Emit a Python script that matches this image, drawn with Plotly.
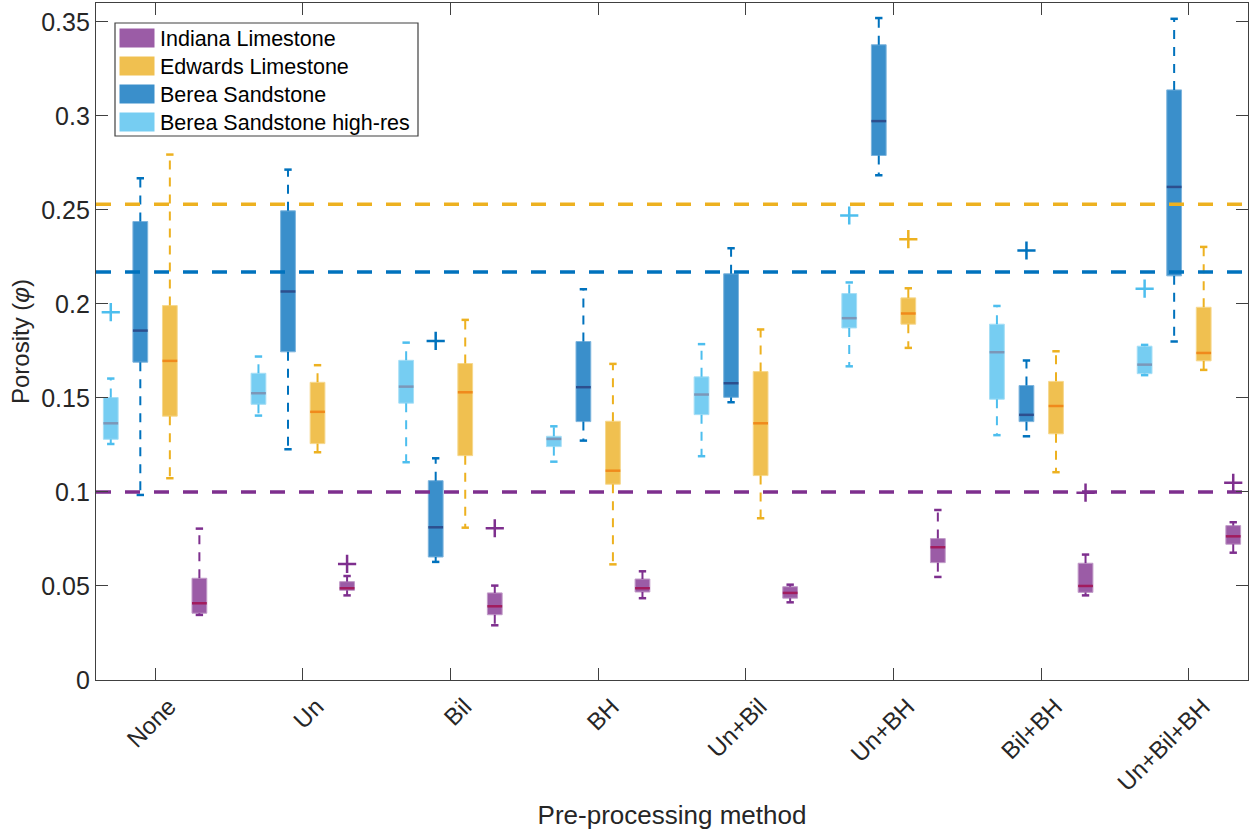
import plotly.graph_objects as go

# ---- data -------------------------------------------------------------
categories = ["None", "Un", "Bil", "BH", "Un+Bil", "Un+BH", "Bil+BH", "Un+Bil+BH"]
positions = [1, 2, 3, 4, 5, 6, 7, 8]

# Berea Sandstone high-res
hr_upper = [0.1603, 0.1720, 0.1794, 0.1349, 0.1786, 0.2114, 0.1989, 0.1782]
hr_q3 = [0.1502, 0.1631, 0.1700, 0.1296, 0.1612, 0.2055, 0.1892, 0.1775]
hr_med = [0.1365, 0.1525, 0.1560, 0.1282, 0.1518, 0.1924, 0.1743, 0.1677]
hr_q1 = [0.1280, 0.1466, 0.1472, 0.1241, 0.1411, 0.1872, 0.1493, 0.1629]
hr_lower = [0.1255, 0.1406, 0.1158, 0.1161, 0.1190, 0.1668, 0.1302, 0.1621]
hr_out_cat = [1, 6, 8]
hr_out_val = [0.1956, 0.2470, 0.2081]

# Berea Sandstone
bs_upper = [0.2668, 0.2714, 0.1179, 0.2078, 0.2296, 0.3520, 0.1699, 0.3516]
bs_q3 = [0.2438, 0.2495, 0.1060, 0.1800, 0.2160, 0.3378, 0.1566, 0.3138]
bs_med = [0.1858, 0.2066, 0.0812, 0.1557, 0.1578, 0.2972, 0.1410, 0.2622]
bs_q1 = [0.1690, 0.1745, 0.0654, 0.1374, 0.1503, 0.2789, 0.1374, 0.2149]
bs_lower = [0.0984, 0.1227, 0.0628, 0.1273, 0.1477, 0.2684, 0.1296, 0.1800]
bs_out_cat = [3, 7]
bs_out_val = [0.1803, 0.2284]

# Edwards Limestone
ed_upper = [0.2794, 0.1674, 0.1915, 0.1681, 0.1864, 0.2083, 0.1748, 0.2303]
ed_q3 = [0.1991, 0.1583, 0.1683, 0.1376, 0.1640, 0.2032, 0.1588, 0.1982]
ed_med = [0.1697, 0.1426, 0.1530, 0.1113, 0.1365, 0.1949, 0.1457, 0.1739]
ed_q1 = [0.1403, 0.1257, 0.1193, 0.1041, 0.1087, 0.1892, 0.1309, 0.1697]
ed_lower = [0.1073, 0.1211, 0.0810, 0.0615, 0.0860, 0.1766, 0.1105, 0.1649]
ed_out_cat = [6]
ed_out_val = [0.2344]

# Indiana Limestone
il_upper = [0.0805, 0.0553, 0.0502, 0.0578, 0.0507, 0.0904, 0.0667, 0.0839]
il_q3 = [0.0541, 0.0523, 0.0463, 0.0537, 0.0496, 0.0752, 0.0621, 0.0821]
il_med = [0.0408, 0.0488, 0.0392, 0.0488, 0.0463, 0.0706, 0.0500, 0.0764]
il_q1 = [0.0355, 0.0477, 0.0347, 0.0468, 0.0435, 0.0624, 0.0466, 0.0722]
il_lower = [0.0346, 0.0450, 0.0291, 0.0435, 0.0413, 0.0548, 0.0450, 0.0677]
il_out_cat = [2, 3, 7, 8]
il_out_val = [0.0617, 0.0807, 0.0996, 0.1049]

# reference porosities (dashed horizontal lines)
ref_edwards = 0.253
ref_berea = 0.217
ref_indiana = 0.100

tick_vals = [0, 0.05, 0.1, 0.15, 0.2, 0.25, 0.3, 0.35]
tick_text = ["0", "0.05", "0.1", "0.15", "0.2", "0.25", "0.3", "0.35"]

# ---- styling ----------------------------------------------------------
FONT = "Liberation Sans, Arial, Helvetica, sans-serif"
BOX_W = 0.1
CAP_W = 0.05
X_RANGE = [0.6, 8.4]

series = [
    dict(name="Berea Sandstone high-res", offset=-0.3,
         upper=hr_upper, q3=hr_q3, med=hr_med, q1=hr_q1, lower=hr_lower,
         out_cat=hr_out_cat, out_val=hr_out_val,
         fill="#76CDF2", edge="#A6DEF6", line="#4DBEEE", median="#7C97B8"),
    dict(name="Berea Sandstone", offset=-0.1,
         upper=bs_upper, q3=bs_q3, med=bs_med, q1=bs_q1, lower=bs_lower,
         out_cat=bs_out_cat, out_val=bs_out_val,
         fill="#3A8FCB", edge="#7DB4DD", line="#0072BD", median="#2D4F8E"),
    dict(name="Edwards Limestone", offset=0.1,
         upper=ed_upper, q3=ed_q3, med=ed_med, q1=ed_q1, lower=ed_lower,
         out_cat=ed_out_cat, out_val=ed_out_val,
         fill="#F0C050", edge="#F6D88E", line="#EDB120", median="#F08A1C"),
    dict(name="Indiana Limestone", offset=0.3,
         upper=il_upper, q3=il_q3, med=il_med, q1=il_q1, lower=il_lower,
         out_cat=il_out_cat, out_val=il_out_val,
         fill="#9B5CA6", edge="#C19BC8", line="#7E2F8E", median="#A21C5E"),
]

fig = go.Figure()

for s in series:
    xs = [p + s["offset"] for p in positions]

    # box bodies
    fig.add_trace(go.Bar(
        x=xs, base=s["q1"], y=[a - b for a, b in zip(s["q3"], s["q1"])],
        width=BOX_W, marker=dict(color=s["fill"], line=dict(color=s["edge"], width=1)),
        showlegend=False, hoverinfo="skip"))

    # whiskers (dashed) and caps
    wx, wy, cx, cy = [], [], [], []
    for x, up, q3, q1, lo in zip(xs, s["upper"], s["q3"], s["q1"], s["lower"]):
        wx += [x, x, None, x, x, None]
        wy += [q3, up, None, q1, lo, None]
        cx += [x - CAP_W / 2, x + CAP_W / 2, None, x - CAP_W / 2, x + CAP_W / 2, None]
        cy += [up, up, None, lo, lo, None]
    fig.add_trace(go.Scatter(x=wx, y=wy, mode="lines",
                             line=dict(color=s["line"], width=2, dash="9px,8px"),
                             showlegend=False, hoverinfo="skip"))
    fig.add_trace(go.Scatter(x=cx, y=cy, mode="lines",
                             line=dict(color=s["line"], width=2.5),
                             showlegend=False, hoverinfo="skip"))

    # medians
    mx, my = [], []
    for x, m in zip(xs, s["med"]):
        mx += [x - BOX_W / 2, x + BOX_W / 2, None]
        my += [m, m, None]
    fig.add_trace(go.Scatter(x=mx, y=my, mode="lines",
                             line=dict(color=s["median"], width=2.5),
                             showlegend=False, hoverinfo="skip"))

    # outliers
    fig.add_trace(go.Scatter(
        x=[c + s["offset"] for c in s["out_cat"]], y=s["out_val"], mode="markers",
        marker=dict(symbol="cross-thin", size=13, line=dict(color=s["line"], width=2.5)),
        showlegend=False, hoverinfo="skip"))

# reference porosity lines
for val, col in [(ref_edwards, "#EDB120"), (ref_berea, "#0072BD"), (ref_indiana, "#7E2F8E")]:
    fig.add_trace(go.Scatter(x=X_RANGE, y=[val, val], mode="lines",
                             line=dict(color=col, width=3.5, dash="15px,14px"),
                             showlegend=False, hoverinfo="skip"))

# ---- legend (drawn in the upper-left corner of the axes) ---------------
L, R, T, B = 96, 1248, 3, 680


def px_x(p):
    return (p - L) / (R - L)


def px_y(p):
    return (B - p) / (B - T)


shapes = [dict(type="rect", xref="paper", yref="paper",
               x0=px_x(115), x1=px_x(418), y0=px_y(136), y1=px_y(23),
               line=dict(color="#404040", width=1.2), fillcolor="white", layer="above")]
annotations = []
legend_rows = [("Indiana Limestone", "#9B5CA6"), ("Edwards Limestone", "#F0C050"),
               ("Berea Sandstone", "#3A8FCB"), ("Berea Sandstone high-res", "#76CDF2")]
for i, (label, col) in enumerate(legend_rows):
    cy = 38 + 28 * i
    shapes.append(dict(type="rect", xref="paper", yref="paper",
                       x0=px_x(119), x1=px_x(155), y0=px_y(cy + 10), y1=px_y(cy - 10),
                       line=dict(color="white", width=1), fillcolor=col, layer="above"))
    annotations.append(dict(xref="paper", yref="paper", x=px_x(158), y=px_y(cy + 1),
                            xanchor="left", yanchor="middle", text=label, showarrow=False,
                            font=dict(family=FONT, size=21.5, color="black")))

fig.update_layout(
    width=1250, height=832,
    margin=dict(l=L, r=1250 - R, t=T, b=832 - B),
    paper_bgcolor="white", plot_bgcolor="white",
    barmode="overlay", showlegend=False,
    shapes=shapes, annotations=annotations,
    font=dict(family=FONT, color="#262626"),
    xaxis=dict(range=X_RANGE, tickmode="array", tickvals=positions, ticktext=categories,
               tickangle=-45, tickfont=dict(size=24, color="#262626"),
               ticklabelshift=14, ticklabelstandoff=2,
               ticks="inside", ticklen=12, tickwidth=1.3, tickcolor="#404040",
               showline=True, linecolor="#404040", linewidth=1.3, mirror="ticks",
               showgrid=False, zeroline=False,
               title=dict(text="Pre-processing method", font=dict(size=26, color="#262626"),
                          standoff=10)),
    yaxis=dict(range=[0, 0.36], tickmode="array", tickvals=tick_vals, ticktext=tick_text,
               tickfont=dict(size=25, color="#262626"),
               ticks="inside", ticklen=12, tickwidth=1.3, tickcolor="#404040",
               showline=True, linecolor="#404040", linewidth=1.3, mirror="ticks",
               showgrid=False, zeroline=False,
               title=dict(text="Porosity (<i>φ</i>)", font=dict(size=24, color="#262626"),
                          standoff=4)),
)

fig.write_html("out.html")
